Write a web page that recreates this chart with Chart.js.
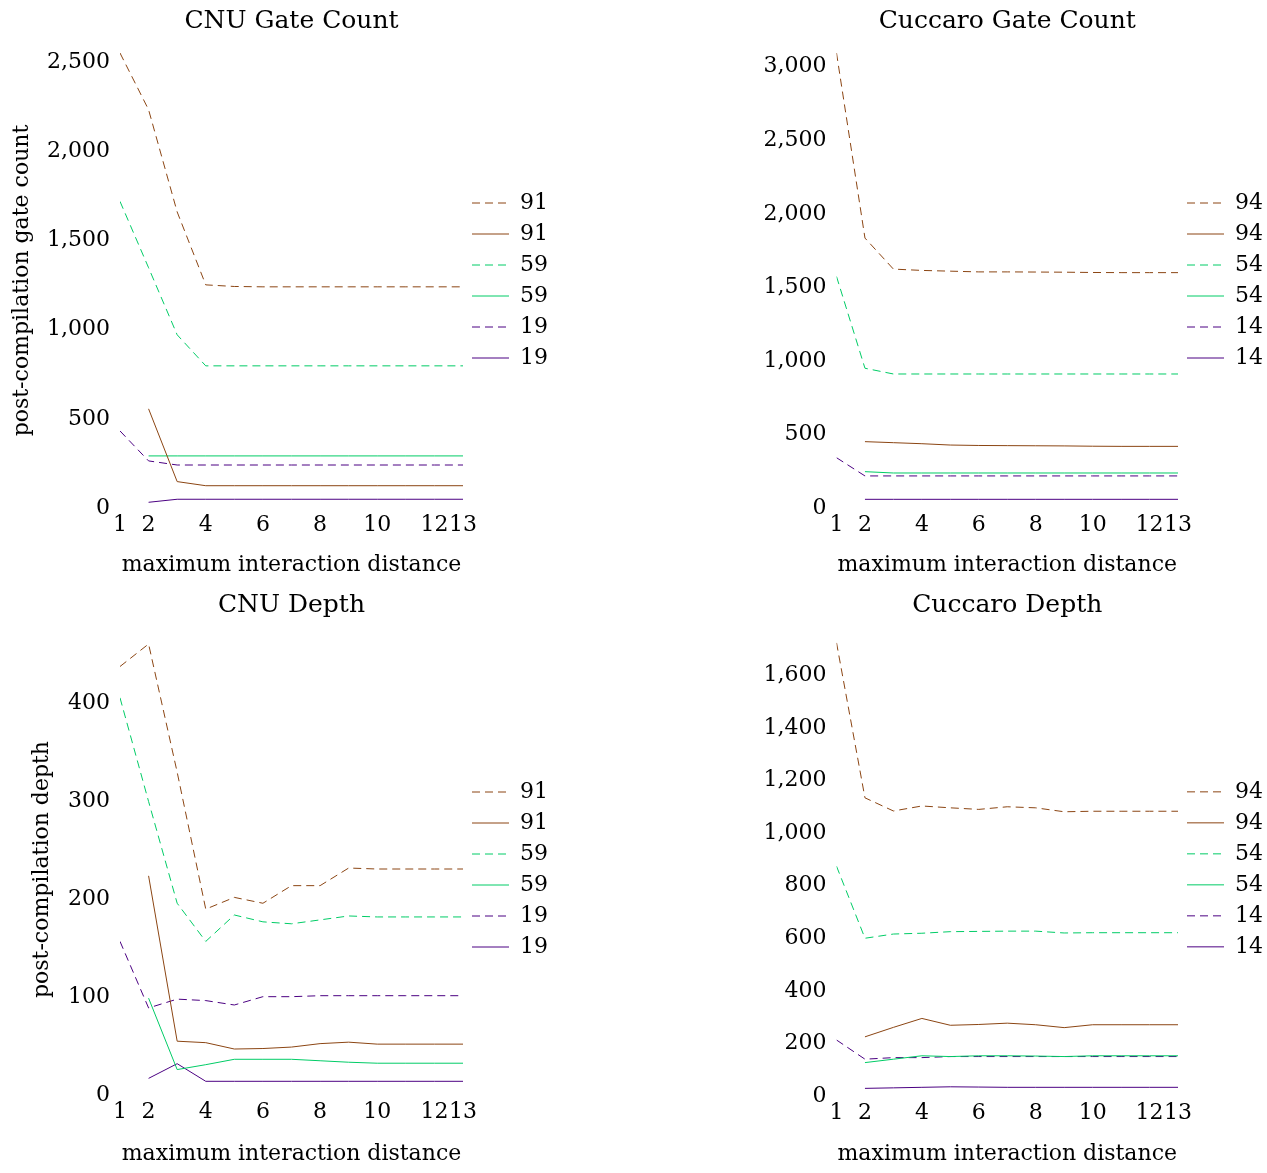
<!DOCTYPE html>
<html>
<head>
<meta charset="utf-8">
<script src="https://cdn.jsdelivr.net/npm/chart.js@4.4.1/dist/chart.umd.min.js"></script>
<style>
  html, body { margin: 0; padding: 0; background: #fff; }
  body { width: 1267px; height: 1173px; position: relative; overflow: hidden; }
  canvas { position: absolute; }
</style>
</head>
<body>
<canvas id="cnuGate"></canvas>
<canvas id="cuccaroGate"></canvas>
<canvas id="cnuDepth"></canvas>
<canvas id="cuccaroDepth"></canvas>
<script>
// maximum interaction distance (x values) and the ticks shown on the x axis
const distances = [1, 2, 3, 4, 5, 6, 7, 8, 9, 10, 11, 12, 13];
const xTickValues = [1, 2, 4, 6, 8, 10, 12, 13];

// y-axis ticks for each panel
const cnuGateTicks = [0, 500, 1000, 1500, 2000, 2500];
const cucGateTicks = [0, 500, 1000, 1500, 2000, 2500, 3000];
const cnuDepthTicks = [0, 100, 200, 300, 400];
const cucDepthTicks = [0, 200, 400, 600, 800, 1000, 1200, 1400, 1600];

// legend labels (adder sizes)
const cnuSizes = ['91', '59', '19'];
const cuccaroSizes = ['94', '54', '14'];

// CNU gate count
const cnuGateDashed91 = [2551, 2233, 1660, 1251, 1242, 1240, 1240, 1240, 1240, 1240, 1240, 1240, 1240];
const cnuGateSolid91  = [null, 556, 148, 125, 125, 125, 125, 125, 125, 125, 125, 125, 125];
const cnuGateDashed59 = [1719, 1347, 971, 797, 797, 797, 797, 797, 797, 797, 797, 797, 797];
const cnuGateSolid59  = [null, 292, 292, 292, 292, 292, 292, 292, 292, 292, 292, 292, 292];
const cnuGateDashed19 = [432, 264, 241, 241, 241, 241, 241, 241, 241, 241, 241, 241, 241];
const cnuGateSolid19  = [null, 32, 49, 49, 49, 49, 49, 49, 49, 49, 49, 49, 49];

// Cuccaro gate count
const cucGateDashed94 = [3093, 1835, 1624, 1615, 1610, 1605, 1605, 1604, 1603, 1601, 1600, 1600, 1600];
const cucGateSolid94  = [null, 451, 444, 437, 428, 425, 424, 423, 422, 420, 419, 419, 419];
const cucGateDashed54 = [1574, 950, 911, 911, 911, 911, 911, 911, 911, 911, 911, 911, 911];
const cucGateSolid54  = [null, 247, 238, 238, 238, 238, 238, 238, 238, 238, 238, 238, 238];
const cucGateDashed14 = [342, 218, 218, 218, 218, 218, 218, 218, 218, 218, 218, 218, 218];
const cucGateSolid14  = [null, 59, 59, 59, 59, 59, 59, 59, 59, 59, 59, 59, 59];

// CNU depth
const cnuDepthDashed91 = [438, 461, 330, 190, 202, 196, 214, 214, 232, 231, 231, 231, 231];
const cnuDepthSolid91  = [null, 224, 55, 53.5, 47, 47.5, 49, 52.5, 54, 52, 52, 52, 52];
const cnuDepthDashed59 = [406, 300, 196, 157, 184, 177, 175, 179, 183, 182, 182, 182, 182];
const cnuDepthSolid59  = [null, 99, 26, 31, 36.5, 36.5, 36.5, 35, 33.5, 32.5, 32.5, 32.5, 32.5];
const cnuDepthDashed19 = [157, 89, 98, 96.5, 92, 100.5, 100.5, 101.5, 101.5, 101.5, 101.5, 101.5, 101.5];
const cnuDepthSolid19  = [null, 17, 32, 14, 14, 14, 14, 14, 14, 14, 14, 14, 14];

// Cuccaro depth
const cucDepthDashed94 = [1724, 1134, 1084, 1103, 1096, 1090, 1100, 1096, 1081, 1083, 1083, 1083, 1083];
const cucDepthSolid94  = [null, 225, 261, 295, 269, 272, 277, 271, 260, 271, 271, 271, 271];
const cucDepthDashed54 = [874, 600, 616, 619, 625, 626, 627, 627, 620, 621, 621, 621, 621];
const cucDepthSolid54  = [null, 127, 140, 153, 150, 153, 153, 152, 150, 153, 153, 153, 153];
const cucDepthDashed14 = [213, 140, 146, 146, 150, 150, 150, 150, 150, 150, 150, 150, 150];
const cucDepthSolid14  = [null, 29, 31, 33, 35, 34, 33, 33, 33, 33, 33, 33, 33];

const seriesColors = ['#8b4513', '#00cc66', '#4b0082'];
const FONT = 'DejaVu Serif';

Chart.defaults.color = '#000';
Chart.defaults.font.family = FONT;
Chart.defaults.font.size = 22;

// legend entries drawn as short line samples carrying each dataset's dash pattern
function lineLegendLabels(chart) {
  const items = Chart.defaults.plugins.legend.labels.generateLabels(chart);
  items.forEach(it => {
    const ds = chart.data.datasets[it.datasetIndex];
    it.lineDash = ds.borderDash;
    it.lineWidth = ds.borderWidth;
    it.strokeStyle = ds.borderColor;
    it.pointStyle = 'line';
  });
  return items;
}

function makePanel(p) {
  const canvas = document.getElementById(p.id);
  canvas.width = p.width;
  canvas.height = p.height;
  canvas.style.left = p.left + 'px';
  canvas.style.top = p.top + 'px';
  canvas.style.width = p.width + 'px';
  canvas.style.height = p.height + 'px';

  const datasets = p.series.map((vals, i) => {
    const c = seriesColors[Math.floor(i / 2)];
    return {
      label: p.sizes[Math.floor(i / 2)],
      data: vals.map((v, k) => ({ x: distances[k], y: v })),
      borderColor: c,
      backgroundColor: c,
      borderWidth: 1,
      borderDash: i % 2 === 0 ? [8, 5] : [],
      pointRadius: 0,
      pointHoverRadius: 0,
      pointStyle: 'line',
      tension: 0,
      fill: false,
      spanGaps: false
    };
  });
  const yMax = Math.max(...p.series.flat().filter(v => v !== null));

  const chart = new Chart(canvas, {
    type: 'line',
    data: { datasets },
    options: {
      responsive: false,
      maintainAspectRatio: false,
      devicePixelRatio: 1,
      animation: false,
      events: [],
      layout: { padding: { left: 0, top: 0, bottom: 0, right: 20 } },
      plugins: {
        tooltip: { enabled: false },
        title: {
          display: true,
          text: p.title,
          fullSize: false,
          font: { family: FONT, size: 25, weight: 'normal', lineHeight: '30px' },
          padding: { top: p.titlePad[0], bottom: p.titlePad[1] }
        },
        legend: {
          position: 'right',
          align: 'center',
          fullSize: false,
          labels: {
            usePointStyle: true,
            pointStyleWidth: 37,
            padding: 9,
            font: { family: FONT, size: 22 },
            generateLabels: lineLegendLabels
          }
        }
      },
      scales: {
        x: {
          type: 'linear',
          min: 1,
          max: 13,
          grid: { display: false, drawTicks: false },
          border: { display: false },
          afterBuildTicks: s => { s.ticks = xTickValues.map(v => ({ value: v })); },
          afterFit: s => { s.height = p.xHeight; },
          ticks: {
            autoSkip: false, maxRotation: 0, minRotation: 0, padding: 4,
            callback: v => String(v)
          },
          title: {
            display: true,
            text: 'maximum interaction distance',
            font: { family: FONT, size: 22 },
            padding: { top: 0, bottom: p.xTitlePad }
          }
        },
        y: {
          type: 'linear',
          min: 0,
          max: yMax,
          grid: { display: false, drawTicks: false },
          border: { display: false },
          afterBuildTicks: s => { s.ticks = p.yTicks.map(v => ({ value: v })); },
          afterFit: s => { s.width = p.yWidth; },
          ticks: {
            autoSkip: false,
            padding: 10,
            callback: v => v.toLocaleString('en-US')
          },
          title: {
            display: !!p.yTitle,
            text: p.yTitle || '',
            font: { family: FONT, size: 22 },
            padding: { top: p.yTitlePad || 0, bottom: 0 }
          }
        }
      }
    }
  });

  // pin the plot's right edge, leaving the legend its natural width
  const diff = chart.chartArea.right - p.plotRight;
  chart.options.layout.padding.right = 20 + diff;
  chart.update();
  return chart;
}

makePanel({
  id: 'cnuGate', left: 0, top: 0, width: 590, height: 586, plotRight: 463,
  title: 'CNU Gate Count', titlePad: [6, 17],
  yTitle: 'post-compilation gate count', yTitlePad: 9,
  yWidth: 120, xHeight: 78, xTitlePad: 8, yTicks: cnuGateTicks, sizes: cnuSizes,
  series: [cnuGateDashed91, cnuGateSolid91, cnuGateDashed59, cnuGateSolid59, cnuGateDashed19, cnuGateSolid19]
});

makePanel({
  id: 'cuccaroGate', left: 633, top: 0, width: 634, height: 586, plotRight: 545,
  title: 'Cuccaro Gate Count', titlePad: [6, 17],
  yTitle: null,
  yWidth: 203.5, xHeight: 78, xTitlePad: 8, yTicks: cucGateTicks, sizes: cuccaroSizes,
  series: [cucGateDashed94, cucGateSolid94, cucGateDashed54, cucGateSolid54, cucGateDashed14, cucGateSolid14]
});

makePanel({
  id: 'cnuDepth', left: 0, top: 586, width: 590, height: 587, plotRight: 463,
  title: 'CNU Depth', titlePad: [4, 24],
  yTitle: 'post-compilation depth', yTitlePad: 29,
  yWidth: 120, xHeight: 78, xTitlePad: 6, yTicks: cnuDepthTicks, sizes: cnuSizes,
  series: [cnuDepthDashed91, cnuDepthSolid91, cnuDepthDashed59, cnuDepthSolid59, cnuDepthDashed19, cnuDepthSolid19]
});

makePanel({
  id: 'cuccaroDepth', left: 633, top: 586, width: 634, height: 587, plotRight: 545,
  title: 'Cuccaro Depth', titlePad: [4, 22.7],
  yTitle: null,
  yWidth: 203.5, xHeight: 77, xTitlePad: 6, yTicks: cucDepthTicks, sizes: cuccaroSizes,
  series: [cucDepthDashed94, cucDepthSolid94, cucDepthDashed54, cucDepthSolid54, cucDepthDashed14, cucDepthSolid14]
});
</script>
</body>
</html>
